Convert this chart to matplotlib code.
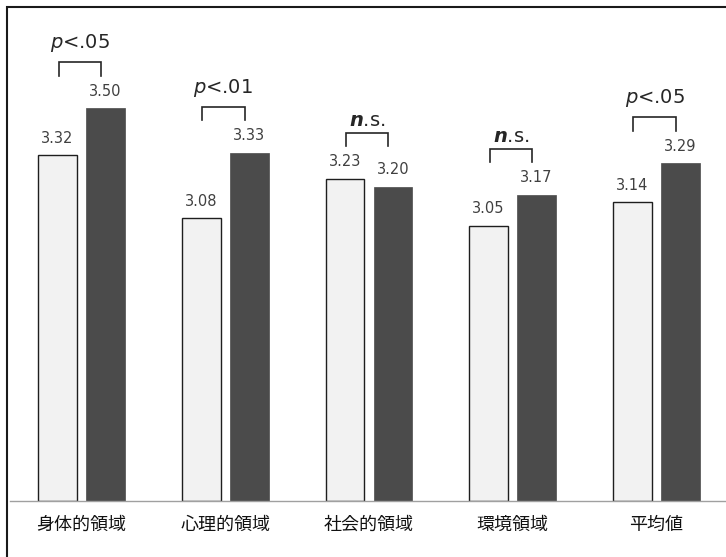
import matplotlib.pyplot as plt
from matplotlib.patches import Rectangle

plt.rcParams['font.family'] = ['Noto Sans CJK JP', 'DejaVu Sans']

categories = ["身体的領域", "心理的領域", "社会的領域", "環境領域", "平均値"]
before = [3.32, 3.08, 3.23, 3.05, 3.14]
after = [3.50, 3.33, 3.20, 3.17, 3.29]
sig = [r"$p$<.05", r"$p$<.01", r"$\boldsymbol{n}$.s.", r"$\boldsymbol{n}$.s.", r"$p$<.05"]

ymin, ymax = 2.0, 3.6
w = 0.27
off = 0.167

fig = plt.figure(figsize=(7.26, 5.57), dpi=100)
ax = fig.add_axes([0.0133, 0.1011, 0.9897, 0.7515])

x = list(range(len(categories)))
xl = [i - off for i in x]
xr = [i + off for i in x]
ax.bar(xl, [v - ymin for v in before], bottom=ymin, width=w,
       color="#f2f2f2", edgecolor="#1e1e1e", linewidth=1.0, zorder=2)
ax.bar(xr, [v - ymin for v in after], bottom=ymin, width=w,
       color="#4b4b4b", edgecolor="#4b4b4b", linewidth=0.5, zorder=2)

# value labels
for xs, vals in ((xl, before), (xr, after)):
    for xi, v in zip(xs, vals):
        ax.annotate(f"{v:.2f}", (xi, v), xytext=(0, 9), textcoords="offset points",
                    ha="center", va="baseline", fontsize=10.5, color="#404040",
                    family="DejaVu Sans")

# significance brackets
for i, s in enumerate(sig):
    top = max(before[i], after[i]) + 0.176
    x0, x1 = i - 0.16, i + 0.136
    ax.plot([x0, x0, x1, x1], [top - 0.052, top, top, top - 0.052],
            color="#262626", lw=1.2, solid_joinstyle="miter", zorder=3, clip_on=False)
    dy = 5 if "n" in s else 10
    ax.annotate(s, ((x0 + x1) / 2, top), xytext=(0, dy), textcoords="offset points",
                ha="center", va="baseline", fontsize=14, color="#262626",
                family="DejaVu Sans", annotation_clip=False)

ax.set_xlim(-0.5, len(categories) - 0.5)
ax.set_ylim(ymin, ymax)
ax.set_xticks(x)
ax.set_xticklabels(categories, fontsize=13, color="#111111")
ax.tick_params(axis="x", length=0, pad=11)
ax.set_yticks([])
for side in ("top", "right", "left"):
    ax.spines[side].set_visible(False)
ax.spines["bottom"].set_color("#a0a0a0")
ax.spines["bottom"].set_linewidth(1.0)
ax.patch.set_alpha(0)

# chart border
fig.add_artist(Rectangle((6.7 / 726, -0.1), 1.2, 1.1 - 6.7 / 557, transform=fig.transFigure,
                         fill=False, edgecolor="#1a1a1a", linewidth=1.5))

fig.savefig("out.png", dpi=100)
